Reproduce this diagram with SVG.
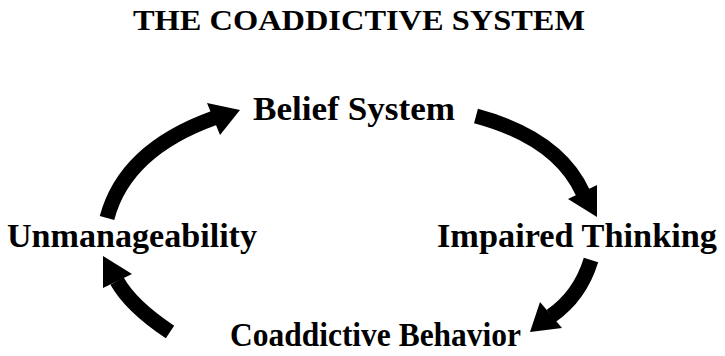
<svg xmlns="http://www.w3.org/2000/svg" width="725" height="356" viewBox="0 0 725 356">
  <style>
    .label { font-family: "Liberation Serif", "Times New Roman", serif; font-weight: bold; fill: #000; }
    .shaft { fill: none; stroke: #000; stroke-width: 15; stroke-linecap: butt; }
    .head { fill: #000; stroke: none; }
  </style>
  <rect width="725" height="356" fill="#fff"/>

  <text class="label" x="133" y="30" font-size="30" textLength="452" lengthAdjust="spacingAndGlyphs">THE COADDICTIVE SYSTEM</text>

  <g id="belief-system">
    <text class="label" x="253" y="120" font-size="34" textLength="202" lengthAdjust="spacingAndGlyphs">Belief System</text>
  </g>
  <g id="impaired-thinking">
    <text class="label" x="437" y="247" font-size="34" textLength="280" lengthAdjust="spacingAndGlyphs">Impaired Thinking</text>
  </g>
  <g id="coaddictive-behavior">
    <text class="label" x="230" y="346" font-size="34" textLength="291" lengthAdjust="spacingAndGlyphs">Coaddictive Behavior</text>
  </g>
  <g id="unmanageability">
    <text class="label" x="7" y="247" font-size="34" textLength="250" lengthAdjust="spacingAndGlyphs">Unmanageability</text>
  </g>

  <g id="connectors">
    <!-- Unmanageability -> Belief System -->
    <path class="shaft" d="M107,218 Q125,150 214,118"/>
    <polygon class="head" points="240,110 207,103 220,135"/>
    <!-- Belief System -> Impaired Thinking -->
    <path class="shaft" d="M476,116 Q558,138 583,193"/>
    <polygon class="head" points="597,217 568,199 597,185"/>
    <!-- Impaired Thinking -> Coaddictive Behavior -->
    <path class="shaft" d="M591,260 Q580,296 551,316"/>
    <polygon class="head" points="530,332 540,302 562,328"/>
    <!-- Coaddictive Behavior -> Unmanageability -->
    <path class="shaft" d="M170,332 Q131,306 117,281"/>
    <polygon class="head" points="103,256 132,274 103,288"/>
  </g>
</svg>
